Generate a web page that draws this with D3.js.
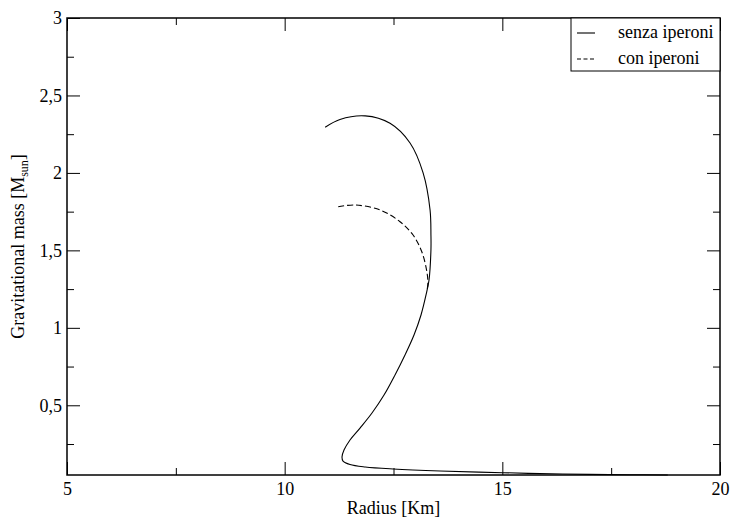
<!DOCTYPE html>
<html><head><meta charset="utf-8">
<script src="https://cdn.jsdelivr.net/npm/d3@7"></script>
<style>body{margin:0;background:#fff}svg{display:block}svg text{font-family:'Liberation Serif','Times New Roman',serif}</style>
</head><body><svg id="c" width="733" height="519"></svg>
<script>
const xMajor = [5, 10, 15, 20];
const xMinor = [7.5, 12.5, 17.5];
const yMajor = [0.5, 1, 1.5, 2, 2.5, 3];
const yMinor = [0.25, 0.75, 1.25, 1.75, 2.25, 2.75];
const seriesNames = ["senza iperoni", "con iperoni"];
// senza iperoni: radius [km], mass [Msun]
const senzaR = [10.93, 11.27, 11.85, 12.42, 12.88, 13.18, 13.34, 13.36, 13.36, 13.316, 13.247, 13.132, 12.971, 12.764, 12.535, 12.282, 12.006, 11.731, 11.501, 11.363, 11.317, 11.34, 11.50, 11.85, 12.49, 13.57, 15.01, 16.39, 17.93, 18.8];
const senzaM = [2.295, 2.345, 2.368, 2.32, 2.193, 2.0, 1.761, 1.6, 1.503, 1.309, 1.212, 1.083, 0.954, 0.825, 0.696, 0.566, 0.450, 0.353, 0.276, 0.211, 0.166, 0.140, 0.118, 0.102, 0.089, 0.076, 0.065, 0.056, 0.052, 0.05];
// con iperoni
const conR = [11.23, 11.62, 12.19, 12.65, 12.95, 13.15, 13.26, 13.29, 13.27];
const conM = [1.782, 1.793, 1.761, 1.685, 1.599, 1.491, 1.373, 1.29, 1.24];

const svg = d3.select("#c");
const L = 67, R = 720, T = 18, B = 475;
const x = d3.scaleLinear().domain([5, 20]).range([L, R]);
const y = d3.scaleLinear().domain([0.05, 3]).range([B, T]);
const f = d => String(d).replace(".", ",");

function axis(gen, vals, size, labels, tr) {
  const g = svg.append("g").attr("transform", tr)
    .call(gen.tickValues(vals).tickSize(size).tickPadding(labels ? 8 : 0)
      .tickFormat(labels ? f : ""));
  g.attr("font-family", null);
  g.select(".domain").remove();
  g.selectAll("line").attr("stroke", "#000").attr("stroke-width", 1);
  g.selectAll("text").attr("font-size", 18).attr("fill", "#000");
  return g;
}
// bottom
axis(d3.axisBottom(x), xMajor, -13, true, `translate(0,${B})`).selectAll("text").attr("y", 7);
axis(d3.axisBottom(x), xMinor, -7, false, `translate(0,${B})`);
// top
axis(d3.axisTop(x), xMajor, -13, false, `translate(0,${T})`);
axis(d3.axisTop(x), xMinor, -7, false, `translate(0,${T})`);
// left
axis(d3.axisLeft(y), yMajor, -13, true, `translate(${L},0)`).selectAll("text").attr("x", -5);
axis(d3.axisLeft(y), yMinor, -7, false, `translate(${L},0)`);
// right
axis(d3.axisRight(y), yMajor, -13, false, `translate(${R},0)`);
axis(d3.axisRight(y), yMinor, -7, false, `translate(${R},0)`);

svg.append("rect").attr("x", L).attr("y", T).attr("width", R - L).attr("height", B - T)
  .attr("fill", "none").attr("stroke", "#000").attr("stroke-width", 1.5);

const line = d3.line().x(d => x(d[0])).y(d => y(d[1])).curve(d3.curveCatmullRom.alpha(0.5));
const senza = senzaR.map((r, i) => [r, senzaM[i]]);
const con = conR.map((r, i) => [r, conM[i]]);
svg.append("path").datum(con).attr("d", line).attr("fill", "none").attr("stroke", "#000")
  .attr("stroke-width", 1.1).attr("stroke-dasharray", "6,3");
svg.append("path").datum(senza).attr("d", line).attr("fill", "none").attr("stroke", "#000")
  .attr("stroke-width", 1.1);

// legend
const lg = svg.append("g");
lg.append("rect").attr("x", 571).attr("y", T).attr("width", R - 571).attr("height", 53)
  .attr("fill", "#fff").attr("stroke", "#000").attr("stroke-width", 1);
seriesNames.forEach((n, i) => {
  const yy = 33 + i * 26;
  lg.append("line").attr("x1", 577).attr("x2", 595).attr("y1", yy).attr("y2", yy)
    .attr("stroke", "#000").attr("stroke-width", 1.1).attr("stroke-dasharray", i ? "4,2.5" : null);
  lg.append("text").attr("x", 618).attr("y", yy + 5).text(n).attr("font-size", 18);
});

// axis titles
svg.append("text").attr("x", (L + R) / 2).attr("y", 514).attr("text-anchor", "middle")
  .attr("font-size", 18).text("Radius [Km]");
const yt = svg.append("text").attr("transform", `translate(24,${(T + B) / 2}) rotate(-90)`)
  .attr("text-anchor", "middle").attr("font-size", 18);
yt.append("tspan").text("Gravitational mass [M");
yt.append("tspan").attr("font-size", 12).attr("dy", 4).text("sun");
yt.append("tspan").attr("dy", -4).text("]");
</script>
</body></html>
